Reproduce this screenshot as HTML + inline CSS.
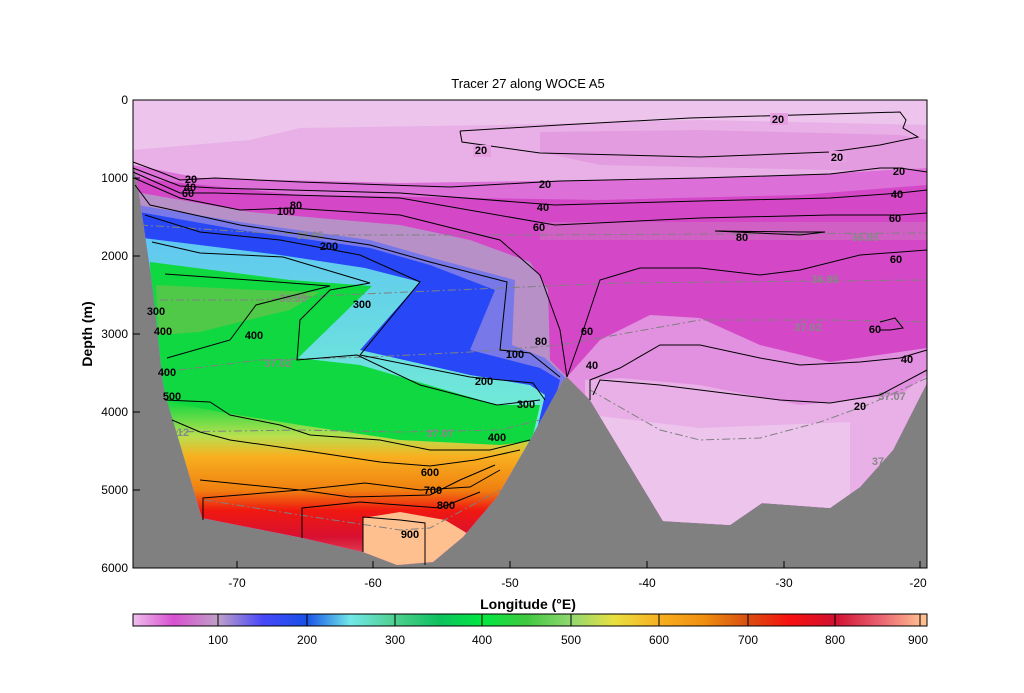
<!DOCTYPE html>
<html><head><meta charset="utf-8"><style>
body{margin:0;background:#fff;}
svg{display:block;font-family:"Liberation Sans",sans-serif;}
.cl{fill:none;stroke:#000;stroke-width:1}
.dl{fill:none;stroke:#808080;stroke-width:1;stroke-dasharray:8,3,2,3}
.lb{font-size:11px;font-weight:bold;fill:#000;text-anchor:middle}
.gl{font-size:11px;font-weight:bold;fill:#888;text-anchor:middle}
.ax{font-size:12px;fill:#000}
</style></head><body>
<svg width="1024" height="693" viewBox="0 0 1024 693">
<defs>
<clipPath id="w"><polygon points="133,162 135,170 140,200 153,290 163,383 166,397 202,518 303,538 363,552 397,565 433,562 463,537 497,497 530,440 563,380 567,377 590,400 663,521 730,525 762,503 830,508 860,487 893,450 927,383 927,100 133,100"/></clipPath>
<linearGradient id="cb" x1="130" x2="923" y1="0" y2="0" gradientUnits="userSpaceOnUse">
<stop offset="0" stop-color="#f0c8f0"/><stop offset="0.055" stop-color="#d850d0"/><stop offset="0.111" stop-color="#c0a0c8"/>
<stop offset="0.167" stop-color="#4848f8"/><stop offset="0.222" stop-color="#1850e8"/><stop offset="0.278" stop-color="#70e8e8"/>
<stop offset="0.333" stop-color="#50d090"/><stop offset="0.389" stop-color="#10c060"/><stop offset="0.444" stop-color="#00e840"/>
<stop offset="0.5" stop-color="#40c840"/><stop offset="0.556" stop-color="#90d870"/><stop offset="0.611" stop-color="#e8e040"/>
<stop offset="0.667" stop-color="#f8b020"/><stop offset="0.722" stop-color="#f09010"/><stop offset="0.778" stop-color="#d85010"/>
<stop offset="0.833" stop-color="#f81010"/><stop offset="0.889" stop-color="#d01030"/><stop offset="0.944" stop-color="#e86070"/>
<stop offset="1" stop-color="#ffc090"/></linearGradient>
<linearGradient id="bot" x1="0" x2="0" y1="405" y2="560" gradientUnits="userSpaceOnUse">
<stop offset="0" stop-color="#20d840"/><stop offset="0.2" stop-color="#b8e050"/><stop offset="0.33" stop-color="#f8b020"/>
<stop offset="0.55" stop-color="#f08010"/><stop offset="0.68" stop-color="#f01810"/><stop offset="0.85" stop-color="#d81030"/><stop offset="1" stop-color="#e05060"/></linearGradient>
<linearGradient id="cy" x1="0" x2="0" y1="240" y2="400" gradientUnits="userSpaceOnUse">
<stop offset="0" stop-color="#60c8f0"/><stop offset="1" stop-color="#70e8d8"/></linearGradient>
</defs>
<rect x="133" y="100" width="794" height="468" fill="#808080"/>
<g clip-path="url(#w)">
<rect x="133" y="100" width="794" height="470" fill="#ecc4ec"/>
<polygon fill="#e8b0e6" points="133,150 250,140 300,128 500,125 700,120 927,125 927,570 133,570"/>
<polygon fill="#e49ce0" points="540,132 700,130 900,135 927,140 927,172 600,165 540,152"/>
<polygon fill="#dc70d8" points="133,165 200,178 400,183 600,180 800,175 927,168 927,570 133,570"/>
<polygon fill="#d448c8" points="133,178 300,195 600,200 800,195 927,185 927,570 133,570"/>
<polygon fill="#d060c4" points="540,222 927,222 927,240 540,240"/>
<polygon fill="#e290e0" points="567,377 600,340 650,315 700,318 760,345 830,362 927,348 927,570 567,570"/>
<polygon fill="#e8b0e6" points="585,380 620,378 700,385 800,405 900,395 927,375 927,570 585,570"/>
<polygon fill="#ecc4ec" points="590,415 700,428 850,422 850,570 590,570"/>
<polygon fill="#b890c8" points="135,192 250,212 400,225 470,240 530,262 548,290 550,360 567,377 540,460 133,460"/>
<polygon fill="#7878e8" points="137,205 240,222 370,240 440,260 515,280 512,345 545,358 566,378 540,460 137,460"/>
<polygon fill="#2848f8" points="139,212 240,230 370,248 430,265 495,290 470,350 540,368 560,380 540,460 139,460"/>
<polygon fill="url(#cy)" points="143,238 280,255 365,268 420,282 360,350 470,375 530,385 545,395 530,460 143,460"/>
<polygon fill="#10d840" points="150,262 290,280 372,286 298,358 360,365 497,405 540,405 525,470 155,470"/>
<polygon fill="#50c848" points="156,285 260,290 320,292 290,310 240,322 200,332 158,335"/>
<polygon fill="url(#bot)" points="160,400 220,412 300,425 400,440 500,445 540,440 540,570 160,570"/>
<polygon fill="#ffc090" points="363,518 400,512 445,520 470,535 463,570 363,570"/>
</g>
<g class="dl">
<polyline points="140,225 250,232 330,235 520,235 927,233"/>
<polyline points="160,300 260,300 340,295 500,288 620,283 927,280"/>
<polyline points="163,372 260,360 370,357 470,352 560,345 700,320 830,320 927,322"/>
<polyline points="170,432 300,430 400,432 500,430 540,420"/>
<polyline points="590,390 660,430 700,440 760,438 820,422 870,404 927,378"/>
<polyline points="205,500 300,515 400,530 430,528 500,490"/>
</g>
<g class="gl"><text x="310" y="239">36.85</text><text x="865" y="241">36.85</text><text x="293" y="302">36.95</text><text x="825" y="283">36.95</text>
<text x="278" y="367">37.02</text><text x="808" y="331">37.02</text><text x="440" y="437">37.07</text><text x="892" y="400">37.07</text><text x="878" y="465">37</text><text x="183" y="436">12</text></g>
<g class="cl">
<polyline points="460,131 560,125 690,118 900,112 906,120 903,128 918,137 880,145 830,152 700,157 540,153 462,142 460,131"/>
<polyline points="133,162 160,172 180,180 215,178 300,182 450,187 560,181 700,178 830,174 880,168 900,168 927,172"/>
<polyline points="133,168 180,186 215,188 400,193 555,205 700,201 830,198 900,193 927,190"/>
<polyline points="133,172 180,193 215,193 400,198 555,225 700,218 830,215 900,215 927,213"/>
<polyline points="134,178 180,198 240,210 290,208 400,215 500,240 540,275 560,330 567,377"/>
<polyline points="135,185 150,205 240,225 370,245 430,262 507,282 500,350 530,353 560,377"/>
<polyline points="145,215 200,232 280,240 360,255 420,282 360,355 470,377 533,383 545,400"/>
<polyline points="152,242 200,253 283,257 370,283 330,290 300,320 297,360 357,355 420,385 497,405 540,400"/>
<polyline points="165,274 250,280 330,286 256,305 230,340 167,358"/>
<polyline points="165,400 210,402 230,415 280,425 310,435 380,440 430,450 490,450 530,440"/>
<polyline points="172,420 200,432 230,440 300,450 380,462 430,466 475,460 520,450"/>
<polyline points="200,480 250,485 300,490 350,497 430,495 460,480 495,465"/>
<polyline points="203,520 203,498 300,490 365,483 420,490 470,487 500,470"/>
<polyline points="302,538 302,508 360,502 400,505 440,508 480,492"/>
<polyline points="363,552 363,517 400,520 425,523 425,565"/>
<polyline points="567,377 580,340 600,280 640,268 700,268 760,275 800,270 860,255 927,250"/>
<polyline points="590,400 590,380 620,368 660,345 700,345 760,358 800,365 860,362 900,358 927,350"/>
<polyline points="593,395 600,380 660,385 700,390 780,400 830,403 880,395 927,370"/>
<polyline points="715,231 800,235 825,232 800,232 715,231"/>
<polyline points="880,322 895,318 903,328 890,330 880,330"/>
</g>
<g class="lb">
<rect x="770" y="113" width="18" height="12" fill="#e6a0e2"/><text x="778" y="123">20</text>
<rect x="473" y="145" width="18" height="12" fill="#e6a0e2"/><text x="481" y="154">20</text>
<rect x="829" y="151" width="18" height="12" fill="#e6a0e2"/><text x="837" y="161">20</text>
<text x="191" y="183">20</text><text x="190" y="191">40</text><text x="188" y="197">60</text>
<text x="545" y="188">20</text><text x="899" y="175">20</text>
<text x="543" y="211">40</text><text x="897" y="198">40</text>
<text x="539" y="231">60</text><text x="895" y="222">60</text><text x="896" y="263">60</text><text x="875" y="333">60</text><text x="587" y="335">60</text>
<text x="296" y="209">80</text><text x="286" y="215">100</text><text x="742" y="241">80</text>
<text x="329" y="250">200</text><text x="362" y="308">300</text><text x="254" y="339">400</text>
<text x="156" y="315">300</text><text x="163" y="335">400</text><text x="167" y="376">400</text><text x="172" y="400">500</text>
<text x="541" y="345">80</text><text x="515" y="358">100</text><text x="484" y="385">200</text><text x="526" y="408">300</text><text x="497" y="441">400</text>
<text x="592" y="369">40</text><text x="907" y="363">40</text><text x="860" y="410">20</text>
<text x="430" y="476">600</text><text x="433" y="494">700</text><text x="446" y="509">800</text><text x="410" y="538">900</text>
</g>
<rect x="133" y="100" width="794" height="468" fill="none" stroke="#000"/>
<g stroke="#000">
<line x1="133" y1="178" x2="140" y2="178"/><line x1="133" y1="256" x2="140" y2="256"/><line x1="133" y1="334" x2="140" y2="334"/>
<line x1="133" y1="412" x2="140" y2="412"/><line x1="133" y1="490" x2="140" y2="490"/>
<line x1="237" y1="568" x2="237" y2="561"/><line x1="373" y1="568" x2="373" y2="561"/><line x1="510" y1="568" x2="510" y2="561"/>
<line x1="647" y1="568" x2="647" y2="561"/><line x1="784" y1="568" x2="784" y2="561"/><line x1="920" y1="568" x2="920" y2="561"/>
</g>
<g class="ax" text-anchor="end">
<text x="128" y="104">0</text><text x="128" y="182">1000</text><text x="128" y="260">2000</text><text x="128" y="338">3000</text>
<text x="128" y="416">4000</text><text x="128" y="494">5000</text><text x="128" y="572">6000</text></g>
<g class="ax" text-anchor="middle">
<text x="237" y="587">-70</text><text x="373" y="587">-60</text><text x="510" y="587">-50</text><text x="647" y="587">-40</text>
<text x="784" y="587">-30</text><text x="918" y="587">-20</text></g>
<text x="528" y="88" text-anchor="middle" style="font-size:13px">Tracer 27 along WOCE A5</text>
<text x="528" y="609" text-anchor="middle" style="font-size:14px;font-weight:bold">Longitude (°E)</text>
<text transform="translate(92,334) rotate(-90)" text-anchor="middle" style="font-size:14px;font-weight:bold">Depth (m)</text>
<rect x="133" y="614" width="794" height="12" fill="url(#cb)" stroke="#000"/>
<g stroke="#000"><line x1="218" y1="614" x2="218" y2="626"/><line x1="307" y1="614" x2="307" y2="626"/><line x1="395" y1="614" x2="395" y2="626"/>
<line x1="482" y1="614" x2="482" y2="626"/><line x1="571" y1="614" x2="571" y2="626"/><line x1="659" y1="614" x2="659" y2="626"/>
<line x1="748" y1="614" x2="748" y2="626"/><line x1="835" y1="614" x2="835" y2="626"/><line x1="920" y1="614" x2="920" y2="626"/></g>
<g class="ax" text-anchor="middle">
<text x="218" y="644">100</text><text x="307" y="644">200</text><text x="395" y="644">300</text><text x="482" y="644">400</text>
<text x="571" y="644">500</text><text x="659" y="644">600</text><text x="748" y="644">700</text><text x="835" y="644">800</text><text x="918" y="644">900</text></g>
</svg>
</body></html>
